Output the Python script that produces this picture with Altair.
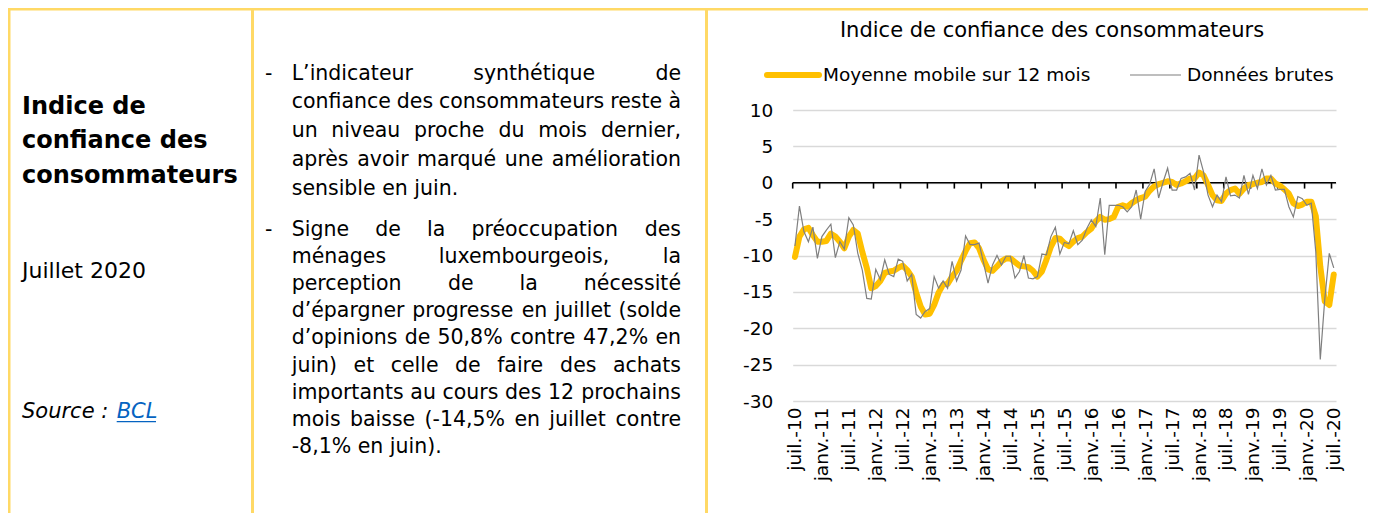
import json
import altair as alt
import pandas as pd

# ---------------- data ----------------
x_labels = ["juil.-10", "janv.-11", "juil.-11", "janv.-12", "juil.-12", "janv.-13",
            "juil.-13", "janv.-14", "juil.-14", "janv.-15", "juil.-15", "janv.-16",
            "juil.-16", "janv.-17", "juil.-17", "janv.-18", "juil.-18", "janv.-19",
            "juil.-19", "janv.-20", "juil.-20"]

raw = [-8.7, -3.2, -6.7, -8.1, -6.1, -10.4, -7.4, -6.5, -5.7, -10.3,
       -8.1, -9.1, -4.8, -5.8, -9.7, -12.0, -15.9, -16.0, -11.9, -13.3,
       -10.6, -12.6, -12.9, -10.5, -10.8, -13.5, -12.6, -18.1, -18.6, -17.7,
       -17.3, -12.9, -14.5, -13.5, -14.5, -10.8, -13.5, -12.0, -7.3, -8.5,
       -8.5, -8.3, -11.0, -13.8, -11.3, -10.0, -11.3, -10.1, -10.1, -13.1,
       -12.2, -10.0, -13.1, -13.2, -12.9, -9.8, -9.9, -7.4, -6.1, -9.8,
       -8.2, -8.4, -6.6, -8.5, -7.9, -6.3, -5.1, -6.0, -2.1, -9.9,
       -3.1, -3.1, -3.1, -3.3, -4.0, -3.3, -1.0, -5.0, -1.2, -0.2,
       1.9, -2.1, 0.1, 2.0, -1.0, -1.0, 0.6, 0.8, 1.3, -1.0,
       3.8, 1.5, -1.7, -3.3, -1.7, -2.6, 0.8, -1.8, -1.7, -2.1,
       1.0, -1.6, 1.0, -0.8, 1.9, -0.3, 1.0, -1.0, -0.9, -0.9,
       -3.3, -4.7, -1.9, -2.2, -3.1, -2.8, -9.5, -24.3, -16.0, -9.7,
       -11.7]

ma = [-10.2, -7.4, -6.4, -6.2, -7.2, -8.1, -8.1, -8.0, -7.0, -7.4,
      -8.1, -9.0, -7.4, -6.5, -7.0, -9.5, -11.7, -14.5, -14.2, -13.5,
      -12.4, -12.2, -12.1, -11.7, -11.4, -12.0, -12.9, -15.1, -17.0, -18.1,
      -18.0, -16.8, -15.1, -14.0, -13.9, -12.9, -12.1, -10.7, -9.4, -8.3,
      -8.2, -9.0, -10.6, -11.9, -12.1, -11.5, -10.8, -10.4, -10.4, -10.9,
      -11.4, -11.5, -11.6, -12.1, -12.9, -12.2, -10.6, -8.8, -7.6, -7.7,
      -8.3, -8.7, -8.1, -7.6, -7.4, -6.8, -6.3, -5.3, -4.7, -5.1,
      -5.0, -4.7, -3.3, -3.1, -3.3, -2.8, -2.4, -2.1, -1.9, -1.1,
      -0.5, -0.2, 0.0, 0.2, 0.1, -0.3, -0.1, 0.2, 0.6, 0.6,
      1.4, 1.0, -0.3, -1.7, -2.4, -2.5, -1.5, -1.0, -0.8, -1.5,
      -0.8, -0.3, -0.2, 0.0, 0.1, 0.6, 0.6, -0.1, -0.4, -0.9,
      -1.5, -2.8, -3.2, -3.0, -2.6, -2.6, -4.6, -11.5, -16.3, -16.8,
      -12.6]

y_ticks = [10, 5, 0, -5, -10, -15, -20, -25, -30]
series_names = ["Moyenne mobile sur 12 mois", "Données brutes"]
chart_title = "Indice de confiance des consommateurs"
left_title = ["Indice de", "confiance des", "consommateurs"]
left_date = "Juillet 2020"
source_label = "Source :"
source_link = "BCL"
bullet1 = ["L’indicateur synthétique de",
           "confiance des consommateurs reste à",
           "un niveau proche du mois dernier,",
           "après avoir marqué une amélioration",
           "sensible en juin."]
bullet2 = ["Signe de la préoccupation des",
           "ménages luxembourgeois, la",
           "perception de la nécessité",
           "d’épargner progresse en juillet (solde",
           "d’opinions de 50,8% contre 47,2% en",
           "juin) et celle de faire des achats",
           "importants au cours des 12 prochains",
           "mois baisse (-14,5% en juillet contre",
           "-8,1% en juin)."]

# ---------------- layout / style ----------------
FONT = "DejaVu Sans"
YELLOW = "#FFC000"
GRAY = "#7F7F7F"
BORDER = "#FFD966"
PX0, PY0 = 792.7, 110.0          # page position of the plot origin
W, H = 543.3, 291.0
PAGE_W, PAGE_H = 1376, 513


def px(x):
    return x - PX0


def py(y):
    return y - PY0


DJV = {' ': 651, '!': 821, '%': 1946, "'": 563, '’': 651, '(': 799, ')': 799, ',': 651,
       '-': 739, '.': 651, ':': 690}
for d in "0123456789":
    DJV[d] = 1303
DJV.update({'A': 1401, 'B': 1405, 'C': 1430, 'D': 1577, 'E': 1294, 'F': 1178, 'G': 1587,
            'H': 1540, 'I': 604, 'J': 604, 'K': 1343, 'L': 1141, 'M': 1767, 'N': 1532,
            'O': 1612, 'P': 1235, 'Q': 1612, 'R': 1423, 'S': 1300, 'T': 1251, 'U': 1499,
            'V': 1401, 'W': 2025, 'X': 1403, 'Y': 1251, 'Z': 1403,
            'a': 1255, 'b': 1300, 'c': 1126, 'd': 1300, 'e': 1260, 'f': 721, 'g': 1300,
            'h': 1298, 'i': 569, 'j': 569, 'k': 1186, 'l': 569, 'm': 1995, 'n': 1298,
            'o': 1253, 'p': 1300, 'q': 1300, 'r': 842, 's': 1067, 't': 803, 'u': 1298,
            'v': 1212, 'w': 1675, 'x': 1212, 'y': 1212, 'z': 1075,
            'é': 1260, 'è': 1260, 'ê': 1260, 'à': 1255, 'â': 1255})


def text_w(s, size):
    return sum(DJV.get(c, 1250) for c in s) / 2048.0 * size


BODY_SIZE = 20.5
X_LEFT, X_RIGHT = 291.7, 681.0


def justify(lines, y0, dy):
    left_rows, right_rows = [], []
    for k, line in enumerate(lines):
        y = y0 + k * dy
        words = line.split(" ")
        if k == len(lines) - 1 or len(words) == 1:
            left_rows.append(dict(t=line, x=px(X_LEFT), y=py(y)))
            continue
        ws = [text_w(w, BODY_SIZE) for w in words]
        gap = (X_RIGHT - X_LEFT - sum(ws)) / (len(words) - 1)
        cur = X_LEFT
        for j, (w, ww) in enumerate(zip(words, ws)):
            if j == len(words) - 1:
                right_rows.append(dict(t=w, x=px(X_RIGHT), y=py(y)))
            else:
                left_rows.append(dict(t=w, x=px(cur), y=py(y)))
            cur += ww + gap
    return left_rows, right_rows


l1, r1 = justify(bullet1, 79.5, 28.8)
l2, r2 = justify(bullet2, 235.8, 27.15)
body_left = pd.DataFrame(l1 + l2)
body_right = pd.DataFrame(r1 + r2)
dashes = pd.DataFrame([dict(t="-", x=px(265), y=py(79.5)), dict(t="-", x=px(265), y=py(235.8))])


def text_layer(df, size, align="left", weight="normal", style="normal", color="black",
               baseline="alphabetic"):
    return alt.Chart(df).mark_text(align=align, baseline=baseline, font=FONT, fontSize=size,
                                   fontWeight=weight, fontStyle=style, color=color).encode(
        x=alt.X("x:Q", scale=None, axis=None),
        y=alt.Y("y:Q", scale=None, axis=None),
        text="t:N")


one = pd.DataFrame({"d": [0]})


def hrule(x1, x2, y, color, width, cap="butt"):
    return alt.Chart(one).mark_rule(color=color, strokeWidth=width, strokeCap=cap).encode(
        x=alt.value(px(x1)), x2=alt.value(px(x2)), y=alt.value(py(y)))


def vrule(x, y1, y2, color, width):
    return alt.Chart(one).mark_rule(color=color, strokeWidth=width).encode(
        x=alt.value(px(x)), y=alt.value(py(y1)), y2=alt.value(py(y2)))


# borders
borders = [
    hrule(8, PAGE_W, 9.0, BORDER, 3),
    vrule(9.0, 8, PAGE_H, BORDER, 3),
    vrule(252.5, 8, PAGE_H, BORDER, 3),
    vrule(706.5, 8, PAGE_H, BORDER, 3),
]

# left column
left_title_df = pd.DataFrame([dict(t=s, x=px(22), y=py(114 + k * 34.3)) for k, s in enumerate(left_title)])
date_df = pd.DataFrame([dict(t=left_date, x=px(22), y=py(278))])
src_df = pd.DataFrame([dict(t=source_label, x=px(22), y=py(418.3))])
link_df = pd.DataFrame([dict(t=source_link, x=px(116.7), y=py(418.3))])

# chart title and legend
title_df = pd.DataFrame([dict(t=chart_title, x=px(1052), y=py(37))])
leg_df = pd.DataFrame([dict(t=series_names[0], x=px(823), y=py(75)),
                       dict(t=series_names[1], x=px(1187), y=py(75))])

# main plot
df = pd.DataFrame({"i": list(range(len(raw))), "raw": raw, "ma": ma})
xscale = alt.Scale(domain=[-0.5, 120.5], nice=False, zero=False)
yscale = alt.Scale(domain=[-30, 10], nice=False, zero=False)

label_expr = json.dumps(x_labels) + "[round(datum.value/6)]"
x_axis = alt.Axis(values=list(range(0, 121, 6)), labelExpr=label_expr, labelAngle=-90,
                  labelAlign="right", labelBaseline="middle", labelFont=FONT,
                  labelFontSize=18.5, labelColor="black", labelPadding=6,
                  domain=False, ticks=False, grid=False, title=None, labelOverlap=False,
                  labelFlush=False)
y_axis = alt.Axis(values=y_ticks, labelExpr="datum.value < 0 ? '-' + (-datum.value) : '' + datum.value",
                  labelFont=FONT, labelFontSize=18.5, labelColor="black", labelPadding=20,
                  domain=False, ticks=False, grid=True, gridColor="#D9D9D9", gridWidth=1.6,
                  title=None, labelOverlap=False, labelFlush=False)

ma_line = alt.Chart(df).mark_line(color=YELLOW, strokeWidth=6, strokeJoin="round",
                                  strokeCap="round").encode(
    x=alt.X("i:Q", scale=xscale, axis=x_axis),
    y=alt.Y("ma:Q", scale=yscale, axis=y_axis))
raw_line = alt.Chart(df).mark_line(color=GRAY, strokeWidth=1.2).encode(
    x=alt.X("i:Q", scale=xscale, axis=x_axis), y=alt.Y("raw:Q", scale=yscale, axis=y_axis))

zero_line = alt.Chart(one).mark_rule(color="black", strokeWidth=1.6).encode(
    y=alt.Y("d:Q", scale=yscale, axis=y_axis))
tick_df = pd.DataFrame({"t": [-0.5 + 6 * k for k in range(21)]})
ticks = alt.Chart(tick_df).mark_rule(color="black", strokeWidth=1.6).encode(
    x=alt.X("t:Q", scale=xscale, axis=x_axis),
    y=alt.YDatum(0, scale=yscale, axis=y_axis),
    y2=alt.Y2Datum(-0.8))

legend_marks = [
    hrule(767, 819, 75, YELLOW, 6, cap="round"),
    hrule(1130, 1181, 75, GRAY, 1.2),
]

layers = (borders +
          [text_layer(left_title_df, 24, weight="bold"),
           text_layer(date_df, 22),
           text_layer(src_df, 21, style="italic"),
           text_layer(link_df, 21, style="italic", color="#0563C1"),
           hrule(116.7, 156, 421.7, "#0563C1", 1.3),
           text_layer(dashes, BODY_SIZE),
           text_layer(body_left, BODY_SIZE),
           text_layer(body_right, BODY_SIZE, align="right"),
           text_layer(title_df, 21, align="center"),
           text_layer(leg_df, 18.5, baseline="middle")] +
          legend_marks +
          [zero_line, ticks, ma_line, raw_line])

chart = alt.layer(*layers).properties(
    width=W, height=H,
    autosize=alt.AutoSizeParams(type="none"),
    padding={"left": PX0 - 8, "top": PY0 - 8, "right": PAGE_W - 16 - (PX0 - 8) - W,
             "bottom": PAGE_H - 8 - (PY0 - 8) - H},
    background="white",
).configure_view(stroke=None).configure_axis(labelOverlap=False)

chart.save("out.html", embed_options={"renderer": "svg", "actions": False})
